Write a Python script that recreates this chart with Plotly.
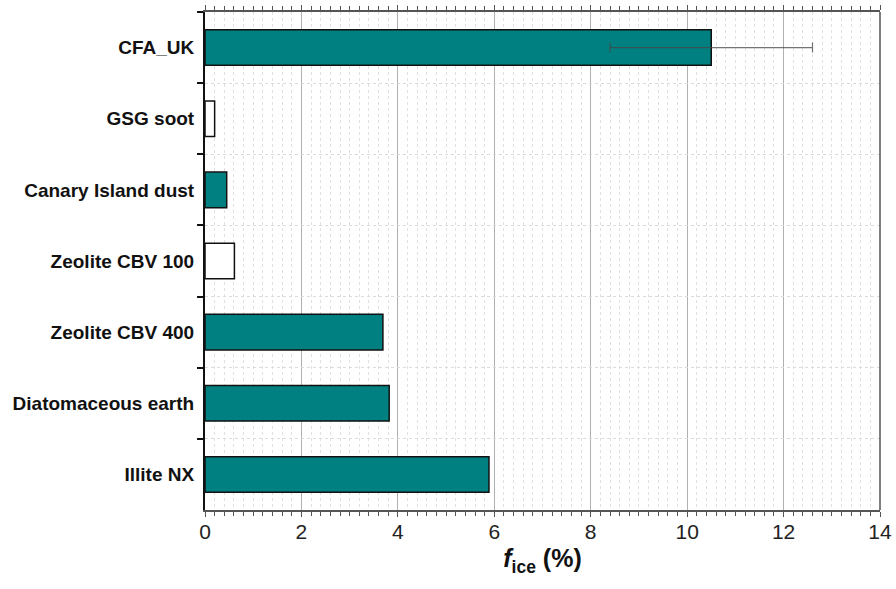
import plotly.graph_objects as go

categories = ["CFA_UK", "GSG soot", "Canary Island dust", "Zeolite CBV 100",
              "Zeolite CBV 400", "Diatomaceous earth", "Illite NX"]
fice = [10.5, 0.2, 0.45, 0.61, 3.69, 3.82, 5.89]
filled = [True, False, True, False, True, True, True]
cfa_error = [2.1]

TEAL = "#008080"
colors = [TEAL if f else "white" for f in filled]

fig = go.Figure()
fig.add_trace(go.Bar(
    x=fice, y=categories, orientation="h", width=0.5,
    marker=dict(color=colors, line=dict(color="#111111", width=1.5)),
    showlegend=False,
))
fig.add_trace(go.Scatter(
    x=[fice[0]], y=[categories[0]], mode="markers",
    marker=dict(size=1, opacity=0),
    error_x=dict(type="data", array=cfa_error, color="rgba(70,70,70,0.75)", thickness=1.2, width=5),
    showlegend=False, hoverinfo="skip",
))

fig.update_layout(
    width=896, height=589,
    margin=dict(l=205, r=16, t=12, b=79, autoexpand=False),
    plot_bgcolor="white", paper_bgcolor="white",
    font=dict(family="Liberation Sans, Arial, sans-serif", color="#111111"),
    xaxis=dict(
        range=[0, 14], dtick=2, tick0=0, automargin=False,
        showline=True, linecolor="#555555", linewidth=1.5, mirror="ticks",
        ticks="outside", ticklen=5, tickcolor="#555555", tickwidth=1.2,
        ticklabelstandoff=-3,
        tickfont=dict(size=21, color="#222222"),
        showgrid=True, gridcolor="#b0b0b0", gridwidth=1,
        zeroline=False,
        minor=dict(dtick=0.2, ticks="outside", ticklen=4, tickcolor="#555555",
                   showgrid=True, gridcolor="#e0e0e0", griddash="dot", gridwidth=1),
        title=dict(text="<b><i>f</i><sub>ice</sub> (%)</b>", font=dict(size=25, color="#111111"), standoff=8),
    ),
    yaxis=dict(
        type="category", categoryorder="array", categoryarray=categories,
        autorange="reversed", automargin=False,
        tickson="boundaries",
        showline=True, linecolor="#111111", linewidth=2,
        ticks="outside", ticklen=6, tickcolor="#111111", tickwidth=2,
        ticklabelstandoff=5,
        tickfont=dict(size=19, color="#111111", weight="bold"),
        showgrid=True, gridcolor="#dcdcdc", griddash="dot", gridwidth=1,
        zeroline=False,
    ),
)
fig.add_shape(type="line", xref="paper", yref="paper", x0=1, x1=1, y0=0, y1=1,
              line=dict(color="#555555", width=1.5))

fig.write_html("out.html", config={"displayModeBar": False},
               post_script="document.body.style.margin='0';document.body.style.overflow='hidden';")
